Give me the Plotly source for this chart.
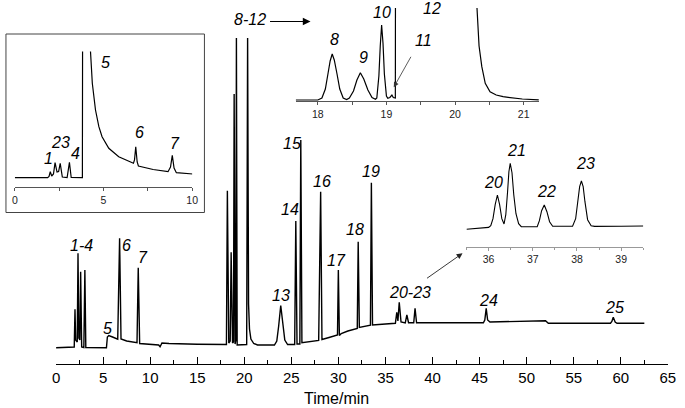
import plotly.graph_objects as go

W, H = 685, 408

# ---------------- data ----------------
# main chromatogram: retention time (min) and detector signal (arbitrary units)
main_time = [0, 1.88, 1.93, 2.01, 2.08, 2.25, 2.33, 2.42, 2.53, 2.61, 2.72, 2.95, 3.06, 3.16,
             5.35, 5.45, 5.6, 6.0, 6.55, 6.75, 6.9, 7.5, 8.5, 8.6, 8.73, 8.88,
             10.9, 11.05, 11.25, 12.0, 15.0, 18.0,
             18.1, 18.2, 18.35, 18.5, 18.6, 18.75, 18.85, 18.92, 19.02, 19.1, 19.16, 19.24,
             20.15, 20.25, 20.35, 20.45, 20.55, 20.7, 21.0, 21.4,
             23.2, 23.45, 23.65, 23.87, 24.1, 24.3, 24.6,
             25.35, 25.47, 25.6, 25.9, 26.0, 26.12,
             27.9, 28.11, 28.25, 29.0, 29.9, 29.99, 30.1, 30.3,
             31.0, 32.0, 32.1, 32.22, 33.4, 33.5, 33.62, 35.0, 36.05,
             36.2, 36.32, 36.46, 36.65, 37.1, 37.27, 37.45, 38.0, 38.14, 38.3,
             45.4, 45.55, 45.7, 45.85, 46.1, 52.0, 52.3, 58.9, 59.05, 59.2, 59.4, 59.6, 62.5]
main_signal = [16.3, 16.3, 17, 54.7, 24, 22, 110.7, 26, 24, 92.3, 17, 16.5, 94, 16.5,
               16.3, 27, 28.5, 27, 24.8, 125.7, 25, 23, 21.5, 21.4, 96.3, 20.5,
               19, 17.3, 21, 20.5, 19.8, 19,
               19.5, 173.3, 21, 23, 111.7, 21, 22, 270, 20, 24, 326, 19,
               19, 19.5, 326, 60, 35, 25, 20.5, 19,
               19, 23, 38, 58.5, 40, 24, 19.5,
               19.5, 143, 20, 20, 224, 21.3,
               23.5, 172.3, 24.5, 26.5, 29, 94, 28.5, 30.5,
               33, 35.5, 122.3, 36.5, 38.8, 181.3, 39, 40, 40.7,
               51.7, 43, 61.7, 42, 41, 49, 41.3, 41.3, 55.7, 41.3,
               41.3, 44, 55.7, 44, 42, 43.3, 40.7, 40.7, 42.5, 46.7, 42, 40.7, 40.7]

# inset 1: 0-10 min
inset1_time = [0, 1.85, 1.93, 2.0, 2.08, 2.18, 2.27, 2.38, 2.47, 2.56, 2.68, 2.95, 3.08, 3.18,
               3.79, 3.81, 3.83, 4.2, 4.27, 4.37, 4.55, 4.74, 4.92, 5.30, 5.86, 6.41, 6.69,
               6.75, 6.82, 6.9, 6.97, 7.8, 8.64, 8.78, 8.88, 8.98, 9.11, 10.04]
inset1_signal = [9.3, 9.3, 10.5, 15.3, 11, 13, 24.3, 15, 15.5, 23.7, 10, 9.5, 24.7, 9.5,
                 9.3, 9.3, 250, 250, 135, 103.7, 77, 60.3, 50.3, 38.7, 30.3, 26, 23.7,
                 27, 40.3, 25, 21, 17.5, 15.3, 20, 31.7, 19, 14.3, 13]

# inset 2: 17.7-21.2 min
inset2_time = [17.68, 18.0, 18.06, 18.11, 18.15, 18.18, 18.21, 18.24, 18.28, 18.32, 18.37, 18.42,
               18.46, 18.52, 18.57, 18.62, 18.67, 18.73, 18.79, 18.84,
               18.86, 18.89, 18.91, 18.93, 18.95, 18.97, 19.0, 19.02,
               19.05, 19.08, 19.1, 19.12, 19.13, 19.135, 20.2, 20.32, 20.35, 20.39,
               20.44, 20.51, 20.6, 20.7, 20.85, 20.98, 21.22]
inset2_signal = [1, 1, 3, 12, 28, 40, 47, 41, 27, 12, 3, 1.5,
                 3, 10, 21, 28.3, 22, 11, 3.5, 1.7,
                 3, 25, 55, 76, 58, 27, 5, 2.7,
                 3.5, 6, 3.5, 3, 3, 300, 300, 92.7, 55, 34.3,
                 17.7, 9.3, 6, 4.3, 2.7, 2, 1.2]

# inset 3: 35.5-39.5 min
inset3_time = [35.5, 35.8, 36.0, 36.05, 36.1, 36.15, 36.2, 36.25, 36.3, 36.35,
               36.39, 36.43, 36.46, 36.49, 36.53, 36.57, 36.62, 36.68, 36.74,
               37.1, 37.15, 37.2, 37.26, 37.32, 37.38, 37.45,
               37.9, 37.97, 38.02, 38.06, 38.1, 38.14, 38.18, 38.24, 38.32, 38.4,
               39.0, 39.5]
inset3_signal = [17.4, 18.5, 19.3, 21, 28, 42, 51.7, 42, 28, 22.7,
                 32, 55, 75, 83.4, 74, 52, 33, 23, 20,
                 20, 26, 36, 41.7, 35, 25, 20.5,
                 20.5, 28, 46, 60, 65.7, 60, 45, 27, 21, 20.3,
                 20.5, 20.7]

main_ticks = list(range(0, 70, 5))
inset1_ticks = [0, 5, 10]
inset2_ticks = [18, 19, 20, 21]
inset3_ticks = [36, 37, 38, 39]

# peak labels (text, pixel position in the picture)
labels = [("1-4", 79, 245), ("5", 105, 328), ("6", 125, 245), ("7", 141, 257),
          ("8-12", 250, 19), ("13", 282, 295), ("14", 291, 210), ("15", 293, 143),
          ("16", 324, 181), ("17", 338, 260), ("18", 357, 229), ("19", 374, 171),
          ("20-23", 413, 292), ("24", 493, 300), ("25", 621, 307),
          ("1", 45, 159), ("23", 58, 142), ("4", 73, 153), ("5", 103, 62),
          ("6", 138, 133), ("7", 174, 143),
          ("8", 336, 39), ("9", 366, 58), ("10", 385, 12), ("11", 427, 41), ("12", 436, 8),
          ("20", 498, 182), ("21", 522, 150), ("22", 552, 191), ("23", 592, 163)]


def px(x):
    return x / W


def py(y):
    return 1 - y / H


FONT = "Liberation Sans, Arial, sans-serif"

fig = go.Figure()
fig.add_trace(go.Scatter(x=main_time, y=main_signal, mode="lines", line=dict(color="black", width=1.4),
                         xaxis="x", yaxis="y", hoverinfo="skip"))
fig.add_trace(go.Scatter(x=inset1_time, y=inset1_signal, mode="lines", line=dict(color="black", width=1.2),
                         xaxis="x2", yaxis="y2", hoverinfo="skip"))
fig.add_trace(go.Scatter(x=inset2_time, y=inset2_signal, mode="lines", line=dict(color="black", width=1.2),
                         xaxis="x3", yaxis="y3", hoverinfo="skip"))
fig.add_trace(go.Scatter(x=inset3_time, y=inset3_signal, mode="lines", line=dict(color="black", width=1.1),
                         xaxis="x4", yaxis="y4", hoverinfo="skip"))

common_y = dict(visible=False, showgrid=False, zeroline=False, fixedrange=True)


def inset_x(domain, rng, ticks, anchor, color, minor_dtick, size=10.5):
    return dict(domain=domain, range=rng, anchor=anchor, tickvals=ticks,
                ticks="outside", ticklen=3, tickwidth=1, tickcolor=color,
                minor=dict(dtick=minor_dtick, ticks="outside", ticklen=2.5, tickcolor=color),
                showline=True, linecolor=color, linewidth=1, showgrid=False, zeroline=False,
                tickfont=dict(family=FONT, size=size, color="#222"), fixedrange=True)


fig.update_layout(
    width=W, height=H, margin=dict(l=0, r=0, t=0, b=0),
    paper_bgcolor="white", plot_bgcolor="rgba(0,0,0,0)", showlegend=False,
    xaxis=dict(domain=[px(53), px(675.7)], range=[0, 65], anchor="y", tickvals=main_ticks,
               ticks="inside", ticklen=7, tickwidth=1.3, tickcolor="black",
               minor=dict(dtick=2.5, ticks="inside", ticklen=3.5, tickwidth=1.3, tickcolor="black"),
               showline=True, linecolor="black", linewidth=1.3, showgrid=False, zeroline=False,
               tickfont=dict(family=FONT, size=15, color="black"), fixedrange=True),
    yaxis=dict(domain=[py(364), 1], range=[0, 364], **common_y),
    xaxis2=inset_x([px(11), px(191.5)], [0, 10], inset1_ticks, "y2", "#555", 2.5),
    yaxis2=dict(domain=[py(187), py(51.5)], range=[0, 135.5], **common_y),
    xaxis3=inset_x([px(296.7), px(545)], [17.675, 21.23], inset2_ticks, "y3", "#555", 0.5),
    yaxis3=dict(domain=[py(101), py(8)], range=[0, 93], **common_y),
    xaxis4=inset_x([px(470.7), px(650.7)], [35.5, 39.5], inset3_ticks, "y4", "#999", 0.5),
    yaxis4=dict(domain=[py(246.7), py(140)], range=[0, 106.7], **common_y),
)

# inset 1 frame
fig.add_shape(type="rect", xref="paper", yref="paper", x0=px(2), x1=px(204), y0=py(212.5), y1=py(34),
              line=dict(color="#444", width=1))

ann = []
for text, x, y in labels:
    ann.append(dict(text="<i>%s</i>" % text, x=px(x), y=py(y), xref="paper", yref="paper",
                    showarrow=False, xanchor="center", yanchor="middle",
                    font=dict(family=FONT, size=16, color="black")))
ann.append(dict(text="Time/min", x=px(338), y=py(398), xref="paper", yref="paper", showarrow=False,
                xanchor="center", yanchor="middle", font=dict(family=FONT, size=16, color="black")))
# arrows
ann.append(dict(text="", x=px(312), y=py(21.5), xref="paper", yref="paper", ax=-42, ay=0,
                showarrow=True, arrowhead=2, arrowsize=1.4, arrowwidth=1.1, arrowcolor="black"))
ann.append(dict(text="", x=px(396.7), y=py(87.3), xref="paper", yref="paper", ax=18, ay=-32,
                showarrow=True, arrowhead=2, arrowsize=1.3, arrowwidth=0.8, arrowcolor="#333"))
ann.append(dict(text="", x=px(466.7), y=py(253.3), xref="paper", yref="paper", ax=-37, ay=26,
                showarrow=True, arrowhead=2, arrowsize=1.3, arrowwidth=0.9, arrowcolor="#222"))
fig.update_layout(annotations=ann)

fig.write_html("out.html", config={"displayModeBar": False},
               post_script="document.body.style.margin='0';document.body.style.overflow='hidden';")
